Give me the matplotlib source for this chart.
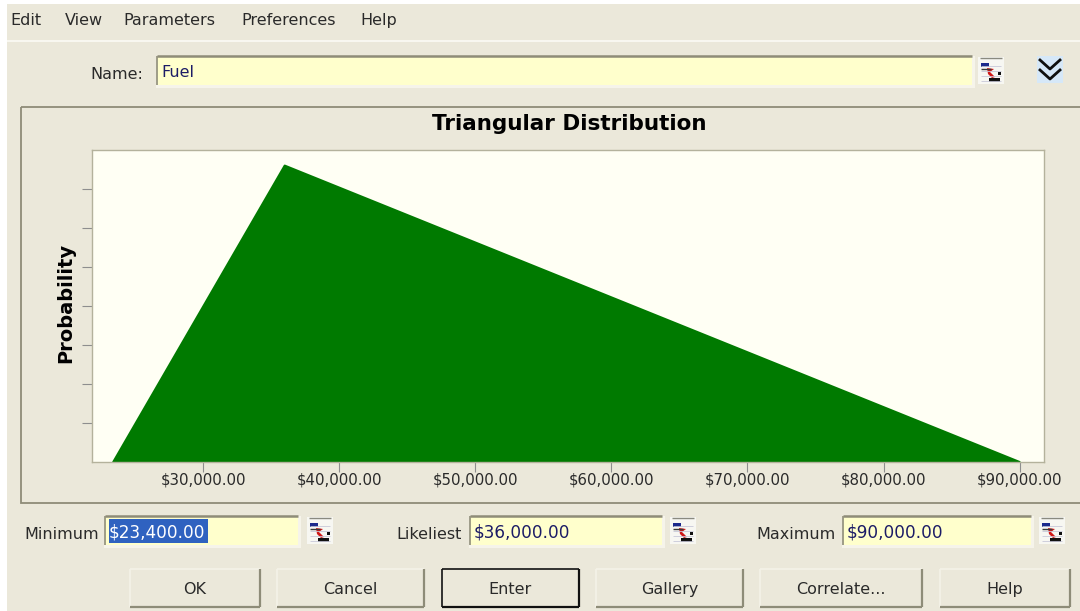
import matplotlib
matplotlib.use('Agg')
import matplotlib.pyplot as plt
from matplotlib.patches import Rectangle, Polygon

plt.rcParams['font.family'] = ['DejaVu Sans']

# distribution shape
dist_x = [23400, 36000, 90000]
dist_y = [0, 3.04e-5, 0]
x_ticks = [30000, 40000, 50000, 60000, 70000, 80000, 90000]
y_ticks = [4e-6, 8e-6, 12e-6, 16e-6, 20e-6, 24e-6, 28e-6]
title = 'Triangular Distribution'
y_label = 'Probability'

menu_items = ['Edit', 'View', 'Parameters', 'Preferences', 'Help']
button_labels = ['OK', 'Cancel', 'Enter', 'Gallery', 'Correlate...', 'Help']
field_labels = ['Minimum', 'Likeliest', 'Maximum']
field_values = ['$23,400.00', '$36,000.00', '$90,000.00']

BG = '#EBE8DA'
FIELD = '#FFFFCC'
EDGE = '#8E8C78'
TEXT = '#2A2A2A'
BLUE_TEXT = '#1C1C66'

W, H = 1080, 611
fig = plt.figure(figsize=(W / 100, H / 100), dpi=100, facecolor='white')

# window chrome is drawn in pixel coordinates
ui = fig.add_axes([0, 0, 1, 1])
ui.set_xlim(0, W)
ui.set_ylim(H, 0)
ui.axis('off')


def box(x0, y0, x1, y1, **kw):
    ui.add_patch(Rectangle((x0, y0), x1 - x0, y1 - y0, **kw))


def hline(x0, x1, y, color, lw=1.5):
    ui.plot([x0, x1], [y, y], color=color, lw=lw, solid_capstyle='butt')


def vline(x, y0, y1, color, lw=1.5):
    ui.plot([x, x], [y0, y1], color=color, lw=lw, solid_capstyle='butt')


def field(x0, y0, x1, y1):
    box(x0 - 1, y0, x1 + 3, y1 + 3, fc='#F6F4EA', ec='none')
    box(x0, y0, x1, y1, fc=FIELD, ec='none')
    hline(x0, x1, y0, EDGE, 1.8)
    vline(x0, y0, y1, EDGE, 1.2)


def icon(x0, y0):
    box(x0, y0, x0 + 26, y0 + 27, fc='#F7F7F2', ec='none')
    hline(x0 + 2, x0 + 24, y0 + 1, '#8A8A80', 1.0)
    for dy in (9, 14, 19, 24):
        hline(x0 + 3, x0 + 23, y0 + dy, '#C8C8D8', 0.6)
    box(x0 + 3, y0 + 6, x0 + 11, y0 + 10, fc='#1C2A8C', ec='none')
    hline(x0 + 3, x0 + 13, y0 + 12, '#3A3A3A', 1.0)
    ui.add_patch(Polygon([(x0 + 9, y0 + 11), (x0 + 16, y0 + 12), (x0 + 12, y0 + 15),
                          (x0 + 17, y0 + 20), (x0 + 14, y0 + 21), (x0 + 10, y0 + 17)],
                         fc='#D01818', ec='none'))
    box(x0 + 11, y0 + 21, x0 + 22, y0 + 25, fc='#111111', ec='none')
    box(x0 + 20, y0 + 15, x0 + 23, y0 + 18, fc='#111111', ec='none')


def button(x0, x1, label, default=False):
    y0, y1 = 569, 607
    box(x0, y0, x1, y1, fc=BG, ec='none')
    hline(x0, x1, y0, '#F4F2E8', 1.2)
    vline(x0, y0, y1, '#F4F2E8', 1.2)
    hline(x0, x1, y1, '#111111' if default else '#8E8C78', 1.6)
    vline(x1, y0, y1, '#111111' if default else '#8E8C78', 1.6)
    if default:
        hline(x0, x1, y0, '#111111', 1.2)
        vline(x0, y0, y1, '#111111', 1.2)
    ui.text((x0 + x1) / 2, 588, label, ha='center', va='center_baseline', fontsize=11.5, color=TEXT)


box(7, 4, W, H, fc=BG, ec='none')

# menu bar
for x, item in zip([10, 65, 123, 241, 360], menu_items):
    ui.text(x, 19, item, ha='left', va='center_baseline', fontsize=11.5, color=TEXT)
hline(7, W, 41, '#F8F7F0', 1.5)

# name row
ui.text(143, 73, 'Name:', ha='right', va='center_baseline', fontsize=11.5, color=TEXT)
field(157, 56, 972, 85)
ui.text(161, 71, 'Fuel', ha='left', va='center_baseline', fontsize=11.5, color=BLUE_TEXT)
icon(978, 57)
box(1037, 56, 1063, 83, fc='#D6E8F8', ec='none')
for dy in (0, 10):
    ui.plot([1040, 1050, 1060], [60 + dy, 69 + dy, 60 + dy], color='#101010', lw=2.0)

# group frame around the chart
ui.add_patch(Rectangle((21, 107), W + 20, 396, fc='none', ec=EDGE, lw=1.3))

ui.text(569, 122, title, ha='center', va='center_baseline', fontsize=15.5, fontweight='bold', color='black')
ui.text(66, 303, y_label, ha='center', va='center', rotation=90, rotation_mode='anchor',
        fontsize=14, fontweight='bold', color='black')

# parameter row
for x, label in zip([99, 462, 836], field_labels):
    ui.text(x, 533, label, ha='right', va='center_baseline', fontsize=11.5, color=TEXT)
for (x0, x1), val, icon_x in zip([(105, 298), (470, 662), (843, 1031)], field_values, [307, 670, 1039]):
    field(x0, 516, x1, 545)
    if val == field_values[0]:
        box(109, 519, 208, 543, fc='#2F62C0', ec='none')
    ui.text(x0 + 4, 531, val, ha='left', va='center_baseline', fontsize=12.2,
            color='white' if val == field_values[0] else BLUE_TEXT)
    icon(icon_x, 517)

# buttons
spans = [(130, 260), (277, 424), (442, 579), (596, 743), (760, 922), (940, 1070)]
for (x0, x1), label in zip(spans, button_labels):
    button(x0, x1, label, default=label == 'Enter')

# the actual chart
left, right, top, bottom = 92, 1044, 150, 462
ax = fig.add_axes([left / W, 1 - bottom / H, (right - left) / W, (bottom - top) / H])
ax.set_facecolor('#FFFFF4')
ax.fill(dist_x, dist_y, color='#007A00', lw=1.5, joinstyle='round', clip_on=True)
ax.set_xlim(21840, 91790)
ax.set_ylim(0, 3.2e-5)
ax.set_xticks(x_ticks)
ax.set_xticklabels([f'${v:,.2f}' for v in x_ticks])
ax.set_yticks(y_ticks)
ax.set_yticklabels([])
ax.tick_params(axis='x', length=7, width=0.8, color='#8E8E8E', pad=0.5, labelsize=10.8, labelcolor=TEXT)
ax.tick_params(axis='y', length=7, width=0.8, color='#8E8E8E')
for s in ax.spines.values():
    s.set_color('#B4B29C')
    s.set_linewidth(1.0)

fig.savefig('out.png', dpi=100, facecolor='white')
